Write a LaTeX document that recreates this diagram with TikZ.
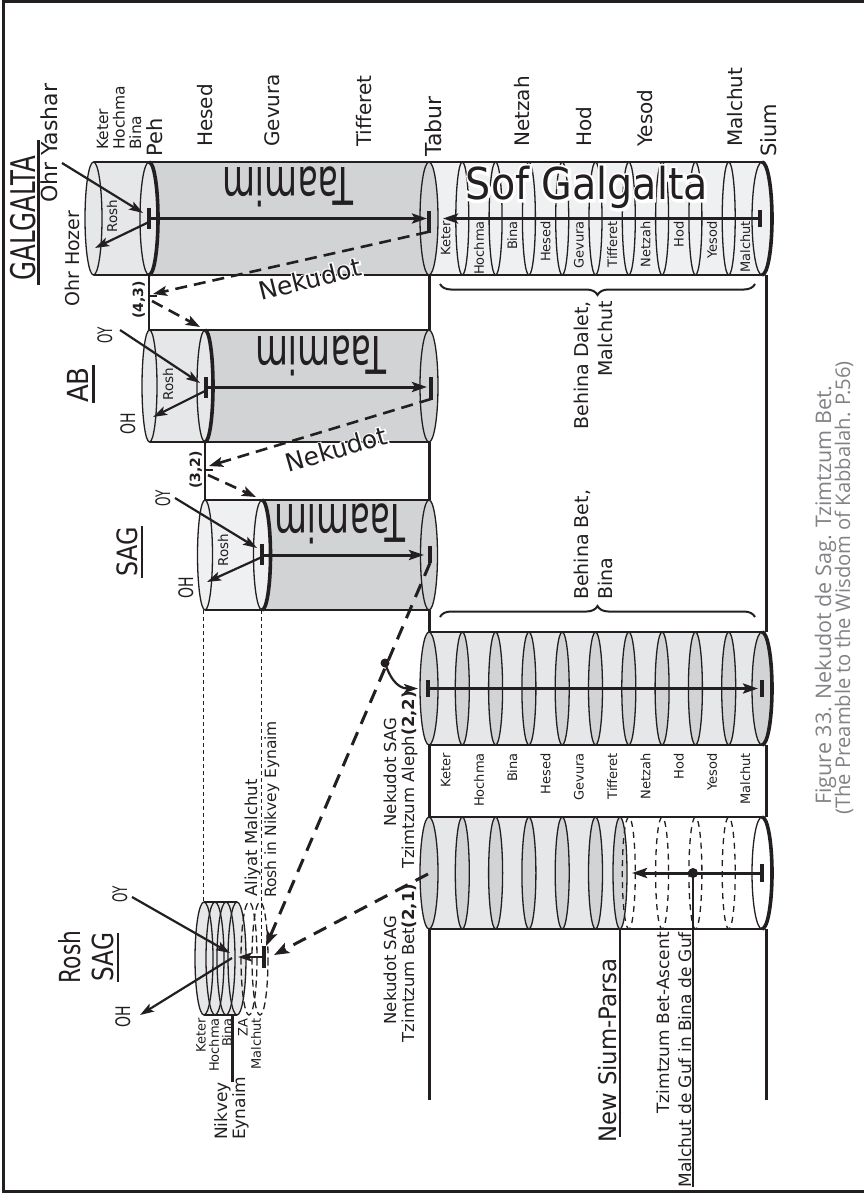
\documentclass[tikz,border=0pt]{standalone}
\usepackage{fontspec}
\usepackage{graphicx}
\setmainfont{DejaVu Sans}
\newfontfamily\capfont{Open Sans}
\newfontfamily\halofont{DejaVu Sans}[FakeBold=12]
\usetikzlibrary{calc,arrows.meta,decorations.pathreplacing}
\definecolor{ink}{HTML}{231F20}
\definecolor{gA}{HTML}{E6E7E8}
\definecolor{gB}{HTML}{D1D3D4}
\definecolor{gC}{HTML}{EFF0F1}
\definecolor{capgray}{HTML}{808285}
\newcommand\fsz[1]{\fontsize{#1}{#1}\selectfont}
\newcommand\sx[2]{\scalebox{#1}[1]{#2}}
\newcommand\secfill[7]{\fill[#7] (#1,#5-#6) -- (#3,#5-#6) arc[start angle=-90,end angle=90,x radius=#4,y radius=#6] -- (#1,#5+#6) arc[start angle=90,end angle=-90,x radius=#2,y radius=#6] -- cycle;}
\newcommand\thickend[4]{\draw[ink,line width=3.6pt] (#1,#2-#4) arc[start angle=-90,end angle=90,x radius=#3,y radius=#4];}
\newcommand\ellip[5][]{\draw[ink,line width=1.3pt,#1] (#2,#3) ellipse[x radius=#4,y radius=#5];}
% white stroked copy under the black text (halo)
\newcommand\halo[5]{\node[#1,text=white] at (#2) {\halofont\fsz{#5}#3};\node[#1] (#4) at (#2) {\fsz{#5}#3};}
\begin{document}
\begin{tikzpicture}[x=1pt,y=-1pt,
 every node/.style={inner sep=0pt,text=ink},
 lbl/.style={rotate=90},
 tip/.style={-{Stealth[length=15pt,width=10pt,inset=3pt]}},
 axisln/.style={ink,line width=3pt,tip},
 ray/.style={ink,line width=2.2pt,-{Stealth[length=14pt,width=9pt,inset=3pt]}},
 dsh/.style={ink,line width=2.6pt,dash pattern=on 12pt off 7pt,-{Stealth[length=14pt,width=10pt,inset=3pt]}},
 dshb/.style={ink,line width=3pt,dash pattern=on 14pt off 9pt,-{Stealth[length=15pt,width=11pt,inset=3pt]}},
 vln/.style={ink,line width=3pt},
 bar/.style={ink,line width=3.5pt},
 thinln/.style={ink,line width=0.9pt,dash pattern=on 4pt off 3pt},
 brc/.style={ink,line width=2pt,decorate,decoration={brace,amplitude=11pt}}]
\useasboundingbox (0,0) rectangle (863,1193);
\fill[white] (0,0) rectangle (863,1193);
\draw[ink,line width=3pt] (3.5,1.5) rectangle (880,1191.5);

% ---------------- GALGALTA cylinder
\fill[gA] (93.5,218.5) ellipse[x radius=8.5,y radius=56.5];
\secfill{93.5}{8.5}{149}{9}{218.5}{56.5}{gA}
\secfill{149}{9}{429}{9}{218.5}{56.5}{gB}
\secfill{429}{9}{762}{10}{218.5}{56.5}{gC}
\fill[gB] (429,218.5) ellipse[x radius=9,y radius=56.5];
\draw[ink,line width=2pt] (93.5,162)--(762,162) (93.5,275)--(762,275);
\ellip{93.5}{218.5}{8.5}{56.5}
\ellip{149}{218.5}{9}{56.5}
\ellip{429}{218.5}{9}{56.5}
\foreach \k in {1,...,9}{\pgfmathsetmacro\xx{429+33.3*\k}\ellip{\xx}{218.5}{6.5}{56.5}}
\ellip{762}{218.5}{10}{56.5}
\thickend{149}{218.5}{9}{56.5}
\thickend{762}{218.5}{10}{56.5}

% ---------------- AB cylinder
\fill[gA] (149.5,386) ellipse[x radius=7.5,y radius=56];
\secfill{149.5}{7.5}{205}{8}{386}{56}{gA}
\secfill{205}{8}{429}{9}{386}{56}{gB}
\draw[ink,line width=2pt] (149.5,330)--(429,330) (149.5,442)--(429,442);
\ellip{149.5}{386}{7.5}{56}
\ellip{205}{386}{8}{56}
\ellip{429}{386}{9}{56}
\thickend{205}{386}{8}{56}

% ---------------- SAG cylinder
\fill[gC] (205,555) ellipse[x radius=7.5,y radius=55];
\secfill{205}{7.5}{262}{8.5}{555}{55}{gC}
\secfill{262}{8.5}{429}{8.5}{555}{55}{gB}
\draw[ink,line width=2pt] (205,500)--(429,500) (205,610)--(429,610);
\ellip{205}{555}{7.5}{55}
\ellip{262}{555}{8.5}{55}
\ellip{429}{555}{8.5}{55}
\thickend{262}{555}{8.5}{55}

% ---------------- Aleph (2,2) cylinder
\secfill{429}{9}{762}{10}{688.5}{56.5}{gA}
\draw[ink,line width=2pt] (429,632)--(762,632) (429,745)--(762,745);
\ellip[fill=gB]{429}{688.5}{9}{56.5}
\foreach \k in {1,...,9}{\pgfmathsetmacro\xx{429+33.3*\k}\ellip[fill=gB]{\xx}{688.5}{7}{56.5}}
\ellip[fill=gB]{762}{688.5}{10}{56.5}
\thickend{762}{688.5}{10}{56.5}

% ---------------- Bet (2,1) cylinder
\secfill{429}{9}{620}{7}{873}{56}{gA}
\draw[ink,line width=2pt] (429,817)--(762,817) (429,929)--(762,929);
\ellip[fill=gB]{429}{873}{9}{56}
\foreach \k in {1,...,5}{\pgfmathsetmacro\xx{429+33.3*\k}\ellip[fill=gB]{\xx}{873}{7}{56}}
\ellip[fill=gB]{620}{873}{7}{56}
\foreach \k in {6,...,9}{\pgfmathsetmacro\xx{429+33.3*\k}\ellip[dash pattern=on 6pt off 5pt]{\xx}{873}{6.5}{56}}
\ellip{762}{873}{10}{56}
\thickend{762}{873}{10}{56}

% ---------------- Rosh SAG small cylinder
\fill[gA] (204,958.5) ellipse[x radius=9,y radius=56.5];
\secfill{204}{9}{237}{9}{958.5}{56.5}{gA}
\draw[ink,line width=2pt] (204,902)--(237,902) (204,1015)--(237,1015);
\foreach \xx in {204,215,226,237}{\ellip{\xx}{958.5}{9}{56.5}}
\foreach \xx in {249,260}{\ellip[dash pattern=on 7pt off 4pt]{\xx}{958.5}{8}{56.5}}

% ---------------- vertical lines
\draw[vln] (429,275)--(429,330) (429,442)--(429,500) (429,610)--(429,632) (429,745)--(429,817) (429,929)--(429,1100);
\draw[vln] (766,275)--(766,632) (766,745)--(766,817) (766,929)--(766,1100);
\draw[ink,line width=2.5pt] (149,275)--(149,330);
\draw[ink,line width=2.5pt] (205,442)--(205,500);
\draw[thinln] (203,610)--(203,902);
\draw[thinln] (261,610)--(261,946);
\draw[vln] (232,1015)--(232,1082);
\draw[ink,line width=2.2pt] (620,929)--(620,1137);
\draw[ink,line width=1.2pt] (693,873)--(693,1187);

% ---------------- axes
\coordinate (gPeh) at (149,218.5);
\coordinate (gTab) at (427,218.5);
\draw[bar] (149,208)--(149,229);
\draw[axisln] (gPeh)--(gTab);
\draw[bar] (429,211)--(429,233);
\draw[bar] (760,210)--(760,227);
\coordinate (gSium) at (760,218.5);
\coordinate (gTab2) at (443,218.5);
\draw[axisln] (gSium)--(gTab2);

\coordinate (aPeh) at (206,387);
\coordinate (aTab) at (427,387);
\draw[bar] (206,377)--(206,398);
\draw[axisln] (aPeh)--(aTab);
\draw[bar] (431,377)--(431,400);

\coordinate (sPeh) at (262,555);
\coordinate (sTab) at (424,555);
\draw[bar] (262,544)--(262,565);
\draw[axisln] (sPeh)--(sTab);
\draw[bar] (430,546)--(430,563);

\coordinate (alA) at (428,688.5);
\coordinate (alB) at (758,688.5);
\draw[bar] (428,680)--(428,697);
\draw[axisln] (alA)--(alB);
\draw[bar] (762,680)--(762,697);

\coordinate (btA) at (762,873);
\coordinate (btB) at (632,873);
\draw[bar] (762,864)--(762,882);
\draw[axisln] (btA)--(btB);
\fill[ink] (693,873) circle[radius=5];

% ---------------- Ohr Yashar / Ohr Hozer rays
\draw[ray] (62,163)--(143,213);
\draw[ray] (149,222)--(95,248);
\draw[ray] (120,330)--(200,383);
\draw[ray] (207,390)--(153,417);
\draw[ray] (175,498)--(257,548);
\draw[ray] (262,557)--(207,582);
\draw[ray] (132,897)--(230,953);
\draw[ray] (232,958)--(140,1015);

% ---------------- Nekudot dashed arrows
\coordinate (pA) at (149,296);
\coordinate (pB) at (205,470);
\draw[dsh] (428,232)--(153,294);
\draw[dsh] (152,301)--(200,327);
\draw[dsh] (431,399)--(209,466);
\draw[dsh] (208,475)--(256,497);
\draw[ink,line width=2.5pt] (149,296)--(157,296);
\draw[ink,line width=2.5pt] (205,470)--(213,470);

% long dashed arrows to Rosh SAG
\coordinate (rsM) at (264,957);
\draw[dshb] (430,563)--(266,946);
\draw[dshb] (428,874)--(274,955);
\draw[bar] (264,946)--(264,968);
\draw[ray] (rsM)--(238,957);
\fill[ink] (385,663) circle[radius=4.5];
\draw[ink,line width=2.2pt,-{Stealth[length=14pt,width=9pt,inset=3pt]}] (385,663) .. controls (392,684) and (401,688.5) .. (418,688.5);

% ---------------- braces
\draw[brc] (755,284)--(440,284);
\draw[brc] (440,617)--(755,617);

% ---------------- big texts
\node[lbl,anchor=base,font=\fsz{34}] (galg) at (35,218) {\sx{0.72}{GALGALTA}};
\draw[ink,line width=2.5pt] (38.5,140)--(38.5,285);
\node[lbl,anchor=base,font=\fsz{29}] (abl) at (88,385) {\sx{0.9}{AB}};
\draw[ink,line width=2.5pt] (93.5,365)--(93.5,403);
\node[lbl,anchor=base,font=\fsz{28}] (sagl) at (137,552) {\sx{0.85}{SAG}};
\draw[ink,line width=2.5pt] (142,526)--(142,578);
\node[lbl,anchor=base,font=\fsz{29}] (rsl1) at (80,957) {\sx{0.75}{Rosh}};
\node[lbl,anchor=base,font=\fsz{29}] (rsl2) at (113,957) {\sx{0.8}{SAG}};
\draw[ink,line width=2.5pt] (118,933)--(118,982);

\node[rotate=180,font=\fsz{52}] (tm1) at (288,187) {\sx{0.65}{Taamim}};
\node[rotate=180,font=\fsz{52}] (tm2) at (321,356) {\sx{0.65}{Taamim}};
\node[rotate=180,font=\fsz{52}] (tm3) at (340,524) {\sx{0.65}{Taamim}};

\halo{anchor=base}{587,200}{\sx{0.9}{Sof Galgalta}}{sofg}{44}
\halo{rotate=14}{310,279}{Nekudot}{nek1}{25}
\halo{rotate=16}{336,449}{Nekudot}{nek2}{25}

% ---------------- top labels
\node[lbl,anchor=base west,font=\fsz{22}] (oy) at (57,203) {Ohr Yashar};
\node[lbl,anchor=base west,font=\fsz{19}] (oh) at (79,307) {Ohr Hozer};
\node[lbl,anchor=base west,font=\fsz{15.5}] (k1) at (108,150) {Keter};
\node[lbl,anchor=base west,font=\fsz{15.5}] (k2) at (124.5,150) {Hochma};
\node[lbl,anchor=base west,font=\fsz{15.5}] (k3) at (141,150) {Bina};
\node[lbl,anchor=base west,font=\fsz{21}] (peh) at (162,157) {Peh};
\node[lbl,anchor=base west,font=\fsz{20}] (t1) at (212,147) {Hesed};
\node[lbl,anchor=base west,font=\fsz{20}] (t2) at (279,147) {Gevura};
\node[lbl,anchor=base west,font=\fsz{20}] (t3) at (371,147) {Tifferet};
\node[lbl,anchor=base west,font=\fsz{22}] (tab) at (441,157) {Tabur};
\node[lbl,anchor=base west,font=\fsz{20}] (t4) at (529,147) {Netzah};
\node[lbl,anchor=base west,font=\fsz{20}] (t5) at (591,147) {Hod};
\node[lbl,anchor=base west,font=\fsz{20}] (t6) at (652,147) {Yesod};
\node[lbl,anchor=base west,font=\fsz{20}] (t7) at (742,147) {Malchut};
\node[lbl,anchor=base west,font=\fsz{21}] (sium) at (776,157) {Sium};

\node[lbl,anchor=base,font=\fsz{13.5}] (r1) at (117,216) {Rosh};
\node[lbl,anchor=base,font=\fsz{13.5}] (r2) at (173,384) {Rosh};
\node[lbl,anchor=base,font=\fsz{13.5}] (r3) at (228,550) {Rosh};

\node[lbl,anchor=base,font=\fsz{20}] (oy2) at (112,335) {\sx{0.6}{OY}};
\node[lbl,anchor=base,font=\fsz{20}] (oh2) at (135,424) {\sx{0.7}{OH}};
\node[lbl,anchor=base,font=\fsz{20}] (oy3) at (170,498) {\sx{0.6}{OY}};
\node[lbl,anchor=base,font=\fsz{20}] (oh3) at (193,588) {\sx{0.7}{OH}};
\node[lbl,anchor=base,font=\fsz{20}] (oy4) at (127,894) {\sx{0.6}{OY}};
\node[lbl,anchor=base,font=\fsz{20}] (oh4) at (130,1017) {\sx{0.7}{OH}};

\node[lbl,anchor=base,font=\fsz{14}\bfseries] (p43) at (143,300) {(4,3)};
\node[lbl,anchor=base,font=\fsz{14}\bfseries] (p32) at (200,470) {(3,2)};

% section labels
\foreach \n [count=\i] in {Keter,Hochma,Bina,Hesed,Gevura,Tifferet,Netzah,Hod,Yesod,Malchut}{
 \pgfmathsetmacro\xc{429+33.3*(\i-0.5)}
 \node[lbl,anchor=east,font=\fsz{13}] (sof\i) at (\xc,221) {\n};
 \node[lbl,anchor=east,font=\fsz{13}] (mid\i) at (\xc,753) {\n};
}

\node[lbl,anchor=base east,font=\fsz{19}] (bd1) at (588,301) {Behina Dalet,};
\node[lbl,anchor=base east,font=\fsz{19}] (bd2) at (612,301) {Malchut};
\node[lbl,anchor=base west,font=\fsz{19}] (bb1) at (588,600) {Behina Bet,};
\node[lbl,anchor=base west,font=\fsz{19}] (bb2) at (612,600) {Bina};

\node[lbl,anchor=base,font=\fsz{16.5}] (ns1) at (396,772) {Nekudot SAG};
\node[lbl,anchor=base,font=\fsz{16.5}] (ns2) at (414,780) {Tzimtzum Aleph\textbf{(2,2)}};
\node[lbl,anchor=base,font=\fsz{16.5}] (ns3) at (396,970) {Nekudot SAG};
\node[lbl,anchor=base,font=\fsz{16.5}] (ns4) at (414,963) {Tzimtzum Bet\textbf{(2,1)}};

\node[lbl,anchor=base west,font=\fsz{16.5}] (al1) at (257,897) {Aliyat Malchut};
\node[lbl,anchor=base west,font=\fsz{15.5}] (al2) at (276,898) {Rosh in Nikvey Eynaim};

\foreach \n/\xx [count=\i] in {Keter/201,Hochma/214,Bina/227,ZA/243,Malchut/256}{
 \node[lbl,anchor=east,font=\fsz{13}] (rs\i) at (\xx,1018) {\n};
}
\node[lbl,anchor=base west,font=\fsz{17}] (ne1) at (227,1140) {Nikvey};
\node[lbl,anchor=base west,font=\fsz{17}] (ne2) at (245,1140) {Eynaim};

\node[lbl,anchor=base west,font=\fsz{24}] (nsp) at (616,1143) {\sx{0.95}{New Sium-Parsa}};
\node[lbl,anchor=base east,font=\fsz{17}] (tb1) at (669,932) {Tzimtzum Bet-Ascent};
\node[lbl,anchor=base east,font=\fsz{17}] (tb2) at (691,932) {Malchut de Guf in Bina de Guf};

\node[lbl,anchor=base,font=\capfont\fsz{21.5},text=capgray] (cap1) at (831,595) {Figure 33. Nekudot de Sag. Tzimtzum Bet.};
\node[lbl,anchor=base,font=\capfont\fsz{20.2},text=capgray] (cap2) at (850,588) {(The Preamble to the Wisdom of Kabbalah. P.56)};
\end{tikzpicture}
\end{document}
